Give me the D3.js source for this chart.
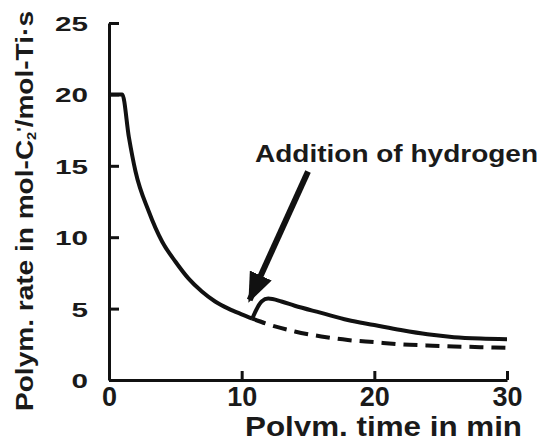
<!DOCTYPE html>
<html>
<head>
<meta charset="utf-8">
<script src="https://cdn.jsdelivr.net/npm/d3@7"></script>
<style>
  body { margin: 0; background: #fff; }
  text { font-family: "Liberation Sans", Arial, sans-serif; font-weight: bold; fill: #1a1a1a; }
</style>
</head>
<body>
<script>
// time in min / rate values
var timeBefore = [0, 1, 1.5, 2, 3, 4, 5, 6, 7, 8, 9, 10, 10.8];
var rateBefore = [20, 20, 17, 14.6, 11.8, 9.7, 8.3, 7.1, 6.2, 5.5, 5.0, 4.6, 4.3];
var timeAfter = [10.8, 11.5, 12, 13, 14, 16, 18, 20, 22, 24, 26, 28, 30];
var rateAfter = [4.3, 5.5, 5.7, 5.5, 5.2, 4.7, 4.2, 3.85, 3.5, 3.2, 3.0, 2.9, 2.85];
var timeNoH2 = [10.8, 12, 14, 16, 18, 20, 22, 24, 26, 28, 30];
var rateNoH2 = [4.3, 3.9, 3.4, 3.05, 2.8, 2.65, 2.5, 2.42, 2.35, 2.3, 2.25];
var xTicks = [0, 10, 20, 30];
var yTicks = [0, 5, 10, 15, 20, 25];
var arrowFrom = [15, 14.6]; // annotation arrow (time, rate)
var arrowTo = [10.6, 5.6];

var width = 543, height = 436;
var svg = d3.select("body").append("svg")
  .attr("width", width)
  .attr("height", height);

var x = d3.scaleLinear().domain([0, 30]).range([109, 507]);
var y = d3.scaleLinear().domain([0, 25]).range([380, 23]);

// axes, ticks pointing inward
var yAxis = svg.append("g")
  .attr("transform", "translate(" + x(0) + ",0)")
  .call(d3.axisLeft(y).tickValues(yTicks).tickSizeInner(-10).tickSizeOuter(0).tickPadding(21));
yAxis.selectAll("text")
  .attr("font-size", 21)
  .attr("textLength", function(d) { return String(d).length * 16.5; })
  .attr("lengthAdjust", "spacingAndGlyphs")
  .attr("dy", "0.36em");

var xAxis = svg.append("g")
  .attr("transform", "translate(0," + y(0) + ")")
  .call(d3.axisBottom(x).tickValues(xTicks).tickSizeInner(-9).tickSizeOuter(0).tickPadding(7));
xAxis.selectAll("text").attr("font-size", 27);

svg.selectAll(".domain, .tick line")
  .attr("stroke", "#111")
  .attr("stroke-width", 3);
svg.selectAll(".tick text").attr("fill", "#1a1a1a").attr("font-family", null);

// curves
var line = d3.line()
  .x(function(d) { return x(d[0]); })
  .y(function(d) { return y(d[1]); })
  .curve(d3.curveMonotoneX);

svg.append("path")
  .datum(d3.zip(timeNoH2, rateNoH2))
  .attr("d", line)
  .attr("fill", "none")
  .attr("stroke", "#111")
  .attr("stroke-width", 4)
  .attr("stroke-dasharray", "14,8");

svg.append("path")
  .datum(d3.zip(timeBefore, rateBefore))
  .attr("d", line)
  .attr("fill", "none")
  .attr("stroke", "#111")
  .attr("stroke-width", 4);

svg.append("path")
  .datum(d3.zip(timeAfter, rateAfter))
  .attr("d", line)
  .attr("fill", "none")
  .attr("stroke", "#111")
  .attr("stroke-width", 4);

// arrow
svg.append("defs").append("marker")
  .attr("id", "head")
  .attr("viewBox", "0 0 10 8")
  .attr("refX", 9)
  .attr("refY", 4)
  .attr("markerWidth", 5)
  .attr("markerHeight", 4)
  .attr("orient", "auto")
  .attr("markerUnits", "strokeWidth")
  .append("path")
  .attr("d", "M0,0L10,4L0,8Z")
  .attr("fill", "#111");

svg.append("line")
  .attr("x1", x(arrowFrom[0])).attr("y1", y(arrowFrom[1]))
  .attr("x2", x(arrowTo[0])).attr("y2", y(arrowTo[1]))
  .attr("stroke", "#111")
  .attr("stroke-width", 6)
  .attr("marker-end", "url(#head)");

svg.append("text")
  .attr("x", 255).attr("y", 162)
  .attr("font-size", 24)
  .attr("textLength", 283)
  .attr("lengthAdjust", "spacingAndGlyphs")
  .text("Addition of hydrogen");

// axis titles
svg.append("text")
  .attr("x", 522).attr("y", 436)
  .attr("text-anchor", "end")
  .attr("font-size", 28)
  .attr("textLength", 277)
  .attr("lengthAdjust", "spacingAndGlyphs")
  .text("Polym. time in min");

var yt = svg.append("text")
  .attr("transform", "translate(33,211) rotate(-90)")
  .attr("text-anchor", "middle")
  .attr("font-size", 23)
  .attr("textLength", 400)
  .attr("lengthAdjust", "spacingAndGlyphs");
yt.append("tspan").text("Polym. rate in mol-C");
yt.append("tspan").attr("font-size", 12).attr("dy", 3).text("2");
yt.append("tspan").attr("font-size", 15).attr("dy", -9).text("'");
yt.append("tspan").attr("dy", 6).text("/mol-Ti\u00b7s");
</script>
</body>
</html>
